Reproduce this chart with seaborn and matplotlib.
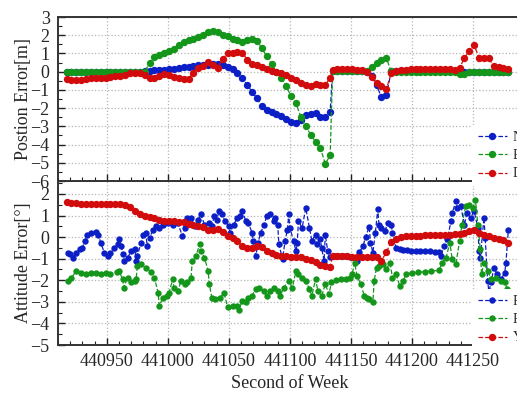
import numpy as np
import pandas as pd
import matplotlib
matplotlib.use("Agg")
import matplotlib.pyplot as plt
import seaborn as sns
from matplotlib.ticker import MultipleLocator

# sample times of the dense series (position + yaw)
t_seg1 = np.arange(440917, 441134, 4)
t_seg2 = np.arange(441135, 441283, 4)
t_dense = np.concatenate([t_seg1, t_seg2])

# position error [m]
pos_n = [0, 0, 0, 0, 0, 0, 0, 0, 0, 0, 0, 0, 0, 0, 0, 0,
         0.02, 0.05, 0.07, 0.08, 0.1,
         0.13, 0.17, 0.2, 0.23, 0.26, 0.3, 0.34, 0.37, 0.38, 0.4, 0.4, 0.36, 0.28,
         0.12, -0.1, -0.37, -0.72, -1.1, -1.47, -1.9, -2.1, -2.2, -2.3, -2.45,
         -2.62, -2.75, -2.84, -2.65, -2.4, -2.3, -2.29, -2.5, -2.5, -2.2,
         0.05, 0.05, 0.05, 0.05, 0.05, 0.05, 0.05,
         0.0, -0.25, -0.75, -1.4, -1.3, 0.02,
         0.02, 0.02, 0.02, 0.02, 0.02, 0.02, 0.02, 0.02, 0.02, 0.02, 0.02, 0.02, 0.02,
         -0.05, 0.0, 0, 0, 0, 0, 0, 0, 0, 0, 0]
pos_e = [0, 0, 0, 0, 0, 0, 0, 0, 0, 0, 0, 0, 0, 0, 0, 0, 0,
         0.46, 0.79, 0.92, 1.02,
         1.12, 1.26, 1.45, 1.62, 1.75, 1.81, 1.9, 2.02, 2.18, 2.25, 2.2, 2.0, 1.93,
         1.82, 1.72, 1.62, 1.72, 1.78, 1.7, 1.28, 0.85, 0.4, 0.0, -0.37,
         -0.8, -1.35, -1.74, -2.5, -3.0, -3.45, -3.85, -4.2, -5.05, -4.6,
         0.02, 0.02, 0.02, 0.02, 0.02, 0.02, 0.02,
         0.05, 0.25, 0.45, 0.62, 0.74, 0.02,
         0, 0, 0, 0, 0, 0, 0, 0, 0, 0, 0, 0, 0,
         -0.15, -0.15, 0, 0, 0, 0, 0, 0, 0, 0, 0]
pos_d = [-0.42, -0.44, -0.46, -0.44, -0.4, -0.37, -0.35, -0.34, -0.33, -0.3,
         -0.25, -0.22, -0.18, -0.07, -0.06, -0.09, -0.2, -0.33, -0.36, -0.25, -0.14,
         -0.2, -0.28, -0.35, -0.42, -0.4, -0.05, 0.2, 0.3, 0.52, 0.35, 0.22, 0.7, 1.02,
         1.04, 1.06, 1.05, 0.65, 0.4, 0.37, 0.28, 0.16, 0.06, 0.0, -0.1,
         -0.2, -0.35, -0.48, -0.6, -0.75, -0.8, -0.66, -0.75, -0.72, -0.35,
         0.1, 0.12, 0.13, 0.13, 0.12, 0.1, 0.08,
         -0.02, -0.3, -0.6, -0.8, -0.97, -0.1,
         0.05, 0.08, 0.1, 0.12, 0.13, 0.14, 0.15, 0.15, 0.14, 0.13, 0.13, 0.12, 0.1,
         0.2, 0.75, 1.15, 1.45, 0.77, 0.75, 0.73, 0.3, 0.24, 0.2, 0.12]

# attitude error [deg]
att_y = [1.63, 1.6, 1.57, 1.55, 1.54, 1.54, 1.54, 1.54, 1.54, 1.54,
         1.55, 1.55, 1.5, 1.4, 1.22, 1.08, 1.0, 0.93, 0.87, 0.8, 0.76,
         0.74, 0.73, 0.72, 0.68, 0.62, 0.56, 0.52, 0.48, 0.35, 0.32, 0.37, 0.25, 0.05,
         -0.03, -0.2, -0.42, -0.5, -0.5, -0.43, -0.45, -0.65, -0.75, -0.82, -0.86,
         -0.88, -0.9, -0.91, -0.93, -1.0, -1.05, -1.15, -1.28, -1.36, -1.38,
         -0.88, -0.88, -0.88, -0.89, -0.9, -0.91, -0.92,
         -0.92, -0.94, -0.92, -1.1, -0.7, -0.22,
         -0.08, 0.0, 0.03, 0.05, 0.06, 0.07, 0.08, 0.08, 0.08, 0.08, 0.1, 0.12, 0.13,
         0.15, 0.18, 0.28, 0.35, 0.2, 0.08, 0.03, -0.04, -0.1, -0.15, -0.25]

t_r = [440918, 440920, 440922, 440925, 440928, 440930, 440932, 440934, 440937, 440941,
       440943, 440945, 440948, 440951, 440953, 440956, 440959, 440960, 440962, 440963,
       440964, 440967, 440970, 440973, 440974, 440975, 440978, 440980, 440982, 440983,
       440985, 440988, 440990, 440993, 440996, 441000, 441004, 441008, 441012, 441014,
       441016, 441019, 441022, 441025, 441027, 441030, 441034, 441036, 441038, 441040,
       441042, 441044, 441047, 441050, 441051, 441054, 441057, 441059, 441061, 441064,
       441066, 441069, 441070, 441072, 441074, 441076, 441079, 441081, 441084, 441087,
       441088, 441090, 441091, 441094, 441096, 441098, 441099, 441100, 441103, 441105,
       441106, 441107, 441110, 441113, 441116, 441118, 441121, 441122, 441125, 441126,
       441128, 441129, 441131, 441133, 441137, 441141, 441145, 441149, 441155, 441157,
       441160, 441162, 441165, 441166, 441168, 441170, 441172, 441173, 441175, 441178,
       441180, 441183, 441184, 441187, 441190, 441193, 441196, 441199, 441203, 441207,
       441211, 441215, 441219, 441222, 441224, 441226, 441229, 441232, 441233, 441236,
       441237, 441240, 441243, 441245, 441248, 441251, 441254, 441255, 441256, 441259,
       441260, 441262, 441263, 441265, 441267, 441270, 441273, 441276, 441277, 441279]
att_r = [-0.72, -0.8, -0.95, -0.72, -0.57, -0.5, -0.18, 0.12, 0.2, 0.25,
         0.12, -0.26, -0.72, -0.88, -0.72, -0.5, -0.34, -0.1, -0.42, -0.8,
         -1.1, -0.95, -0.65, -0.57, -1.1, -0.88, -0.26, 0.12, 0.2, -0.42,
         -0.03, 0.35, 0.5, 0.43, 0.58, 0.66, 0.58, 0.66, 0.05, 0.43,
         0.9, 0.9, 0.5, 0.8, 1.05, 0.58, 0.66, 0.5, 0.97, 0.8,
         1.2, 1.05, 0.74, 0.5, 0.2, 0.58, 0.9, 0.97, 1.2, 0.74,
         0.66, 0.2, -0.18, -0.88, -0.26, 0.2, 0.58, 0.97, 1.05, 0.74,
         0.9, 0.58, -0.34, -1.03, -0.18, 0.35, 1.05, 0.43, -0.18, -0.65,
         -0.26, 0.74, 0.43, 1.35, 0.43, -0.18, 0.12, -0.34, -0.1, -0.5,
         -1.1, 0.12, -0.65, -0.92, -0.88, -0.88, -0.88, -0.9, -1.1, -0.7,
         -0.4, 0.0, 0.48, -0.26, -0.72, 0.2, 1.28, 0.58, 0.43, 0.28,
         0.66, 0.58, 0.2, -0.5, -0.57, -0.6, -0.62, -0.63, -0.65, -0.65,
         -0.65, -0.66, -0.67, -0.68, -0.88, -0.42, -0.1, 0.74, 1.12, 1.66,
         1.35, 1.43, 0.58, 1.12, 0.9, 1.2, 0.43, -0.65, -0.95, 0.9,
         -0.03, -2.03, -2.5, -2.1, -1.42, -1.72, -1.95, -1.65, -1.2, 0.35]

t_p = [440918, 440921, 440925, 440929, 440933, 440937, 440941, 440945, 440949, 440953,
       440958, 440960, 440963, 440964, 440967, 440970, 440973, 440974, 440975, 440978,
       440982, 440986, 440989, 440992, 440993, 440996, 440999, 441001, 441004, 441005,
       441008, 441011, 441014, 441016, 441019, 441020, 441023, 441026, 441027, 441030,
       441033, 441034, 441036, 441039, 441043, 441046, 441049, 441053, 441057, 441058,
       441061, 441064, 441066, 441069, 441072, 441075, 441079, 441081, 441084, 441087,
       441090, 441092, 441095, 441099, 441102, 441105, 441107, 441110, 441113, 441116,
       441118, 441121, 441123, 441126, 441129, 441132, 441134, 441138, 441142, 441146,
       441149, 441151, 441153, 441155, 441158, 441161, 441163, 441165, 441168, 441169,
       441171, 441173, 441176, 441179, 441182, 441184, 441187, 441190, 441193, 441195,
       441200, 441205, 441211, 441216, 441222, 441225, 441228, 441231, 441233, 441236,
       441239, 441241, 441244, 441247, 441250, 441252, 441254, 441256, 441257, 441259,
       441262, 441265, 441269, 441273, 441276, 441278]
att_p = [-2.03, -1.88, -1.57, -1.65, -1.72, -1.65, -1.65, -1.7, -1.65, -1.7,
         -1.6, -1.57, -1.95, -2.34, -1.88, -2.1, -2.03, -1.95, -1.34, -1.26,
         -1.45, -1.6, -1.88, -2.57, -3.18, -2.8, -2.72, -2.57, -1.95, -2.34,
         -2.5, -2.03, -2.18, -2.1, -1.88, -1.1, -0.88, -0.34, -0.65, -0.95,
         -1.57, -2.18, -2.8, -2.88, -2.8, -2.57, -3.26, -3.18, -3.18, -3.4,
         -2.95, -3.03, -2.8, -2.72, -2.4, -2.34, -2.5, -2.72, -2.5, -2.34,
         -2.5, -2.72, -2.34, -2.03, -2.34, -1.57, -1.72, -1.88, -2.03, -2.4,
         -2.72, -1.95, -2.5, -2.72, -2.18, -2.65, -2.1, -2.0, -1.95, -1.92,
         -1.9, -1.72, -1.18, -1.8, -2.18, -2.72, -2.8, -2.88, -3.03, -2.03,
         -1.42, -1.34, -1.26, -1.49, -1.18, -1.88, -1.72, -2.26, -2.03, -1.72,
         -1.65, -1.63, -1.6, -1.58, -1.54, -1.18, -0.95, -0.26, -1.03, -1.26,
         -0.18, 0.58, 1.43, 1.5, 1.35, 1.74, 0.58, -0.57, -1.72, -1.18,
         -1.57, -1.95, -1.88, -2.03, -2.1, -2.4]

blue = "#0c1fc6"
green = "#14961a"
red = "#d20c0c"

sns.set_theme(style="ticks")
plt.rcParams["font.family"] = ["Liberation Serif", "DejaVu Serif"]

fig = plt.figure(figsize=(5.17, 3.96), dpi=100)
ax1 = fig.add_axes([58 / 517, 1 - 181 / 396, 476 / 517, 164 / 396])
ax2 = fig.add_axes([58 / 517, 1 - 345 / 396, 476 / 517, 164 / 396])


def draw(ax, t, v, color, label, ms):
    df = pd.DataFrame({"t": t, "v": v})
    sns.lineplot(data=df, x="t", y="v", ax=ax, color=color, label=label,
                 marker="o", markersize=ms, markeredgewidth=0, markeredgecolor=color,
                 linestyle="--", linewidth=0.9, estimator=None, sort=False)


draw(ax1, t_dense, pos_n, blue, "N", 5.3)
draw(ax1, t_dense, pos_e, green, "E", 5.3)
draw(ax1, t_dense, pos_d, red, "D", 5.3)

draw(ax2, t_r, att_r, blue, "R", 4.6)
draw(ax2, t_p, att_p, green, "P", 4.6)
draw(ax2, t_dense, att_y, red, "Y", 5.3)

for ax in (ax1, ax2):
    ax.set_xlim(440910, 441300)
    ax.set_xticks([440950, 441000, 441050, 441100, 441150, 441200, 441250])
    ax.xaxis.set_minor_locator(MultipleLocator(10))
    ax.yaxis.set_minor_locator(MultipleLocator(0.5))
    ax.tick_params(which="both", direction="in", top=False, right=False,
                   labelsize=13, color="#222222", pad=6)
    ax.tick_params(which="major", length=5, width=1)
    ax.tick_params(which="minor", length=3, width=0.8)
    ax.grid(True, which="major", linestyle=":", color="#b5b5b5", linewidth=0.9)
    for s in ax.spines.values():
        s.set_color("#333333")
        s.set_linewidth(1.4)
    ax.set_xlabel("")
    ax.set_ylabel("")

ax1.set_ylim(-6, 3)
ax1.set_yticks(range(-6, 4))
ax1.tick_params(labelbottom=False)
ax2.set_ylim(-5, 2.6)
ax2.set_yticks(range(-5, 3))

ax1.set_ylabel("Postion Error[m]", fontsize=13)
ax2.set_ylabel("Attitude Error[°]", fontsize=13)
ax2.set_xlabel("Second of Week", fontsize=13)
ax1.yaxis.set_label_coords(-0.055, 0.5)
ax2.yaxis.set_label_coords(-0.055, 0.5)
ax2.xaxis.set_label_coords(0.487, -0.18)

for ax, y0 in ((ax1, 186), (ax2, 350)):
    ax.legend(loc="lower left", bbox_to_anchor=(472 / 517, 1 - y0 / 396),
              bbox_transform=fig.transFigure, fontsize=10, frameon=True,
              framealpha=1, facecolor="white", edgecolor="none", fancybox=False,
              borderaxespad=0, handlelength=2.1, handletextpad=0.45,
              labelspacing=0.38, borderpad=0.4)

ax2.set_zorder(1)
ax1.set_zorder(2)

fig.savefig("out.png", dpi=100)
